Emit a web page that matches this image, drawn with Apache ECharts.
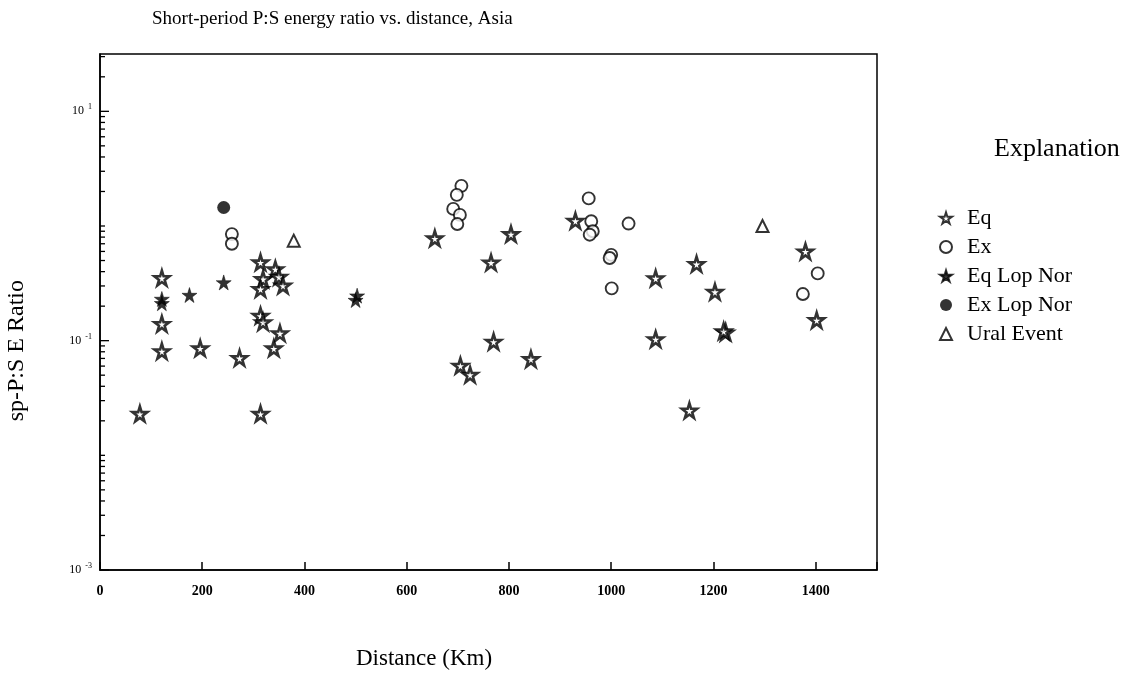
<!DOCTYPE html>
<html>
<head>
<meta charset="utf-8">
<script src="https://cdn.jsdelivr.net/npm/echarts@6/dist/echarts.min.js"></script>
<style>
html,body{margin:0;padding:0;background:#fff;}
#chart{width:1138px;height:680px;}
</style>
</head>
<body>
<div id="chart"></div>
<script>
// ---- data (distance km, sp-P:S energy ratio) ----
const eqX = [78,121,121,121,196,273,314,319,314,314,319,352,340,314,343,350,358,655,804,765,930,1087,1087,770,705,724,843,1167,1203,1224,1220,1153,1380,1402];
const eqY = [0.023,0.352,0.14,0.081,0.0857,0.0706,0.482,0.345,0.282,0.165,0.145,0.116,0.0857,0.023,0.42,0.361,0.302,0.78,0.85,0.48,1.11,0.35,0.103,0.098,0.0605,0.0505,0.069,0.466,0.267,0.118,0.121,0.0246,0.60,0.151];
const exX = [258,258,707,698,691,704,699,956,961,964,958,1034,1000,997,1001,1404,1375];
const exY = [0.85,0.70,2.24,1.87,1.41,1.25,1.04,1.74,1.10,0.90,0.84,1.05,0.56,0.526,0.286,0.386,0.255];
const eqLopX = [121,121,175,242,503,500];
const eqLopY = [0.231,0.212,0.25,0.322,0.247,0.226];
const exLopX = [242];
const exLopY = [1.45];
const uralX = [379,1296];
const uralY = [0.745,1.0];
const xTicks = [0,200,400,600,800,1000,1200,1400];
const yLabelExps = [1,-1,-3];
const yMajorTicks = [10,0.1,0.001];
const yMinorTicks = [0.002,0.003,0.004,0.005,0.006,0.007,0.008,0.009,0.01,
  0.02,0.03,0.04,0.05,0.06,0.07,0.08,0.09,
  0.2,0.3,0.4,0.5,0.6,0.7,0.8,0.9,1,
  2,3,4,5,6,7,8,9,20,30];
const seriesNames = ['Eq','Ex','Eq Lop Nor','Ex Lop Nor','Ural Event'];

const zip = (a,b) => a.map((v,i)=>[v,b[i]]);
const STAR = 'path://M50,0 L61,35 L98,35 L68,57 L79,91 L50,70 L21,91 L32,57 L2,35 L39,35 Z';
const FONT = 'Liberation Serif';

function tickSeries(vals, len){
  return {
    type:'custom', silent:true, clip:false, z:5,
    data: vals.map(v=>[0,v]),
    renderItem:(params, api)=>{
      const p = api.coord([0, api.value(1)]);
      return {type:'line', shape:{x1:p[0], y1:p[1], x2:p[0]+len, y2:p[1]},
        style:{stroke:'#000', lineWidth:1.3}};
    }
  };
}

const chart = echarts.init(document.getElementById('chart'));
chart.setOption({
  backgroundColor:'#fff',
  animation:false,
  textStyle:{fontFamily:FONT,color:'#000'},
  title:{
    text:'Short-period P:S energy ratio vs. distance, Asia',
    left:147, top:5,
    textStyle:{fontFamily:FONT,fontSize:19,fontWeight:'normal',color:'#000'}
  },
  graphic:[
    {type:'text',left:356,top:647,style:{text:'Distance (Km)',font:'23px "Liberation Serif"',fill:'#000'}},
    {type:'text',left:5,top:280,rotation:Math.PI/2,style:{text:'sp-P:S E Ratio',font:'24px "Liberation Serif"',fill:'#000'}},
    {type:'text',left:994,top:136,style:{text:'Explanation',font:'26px "Liberation Serif"',fill:'#000'}}
  ],
  legend:{
    orient:'vertical', left:934, top:202,
    itemWidth:12, itemHeight:12, itemGap:7,
    data:seriesNames,
    textStyle:{fontFamily:FONT,fontSize:22,color:'#000',padding:[0,0,0,10]}
  },
  grid:{left:100,top:54,right:261,bottom:110,show:true,borderColor:'#000',borderWidth:1.5,backgroundColor:'transparent'},
  xAxis:{
    type:'value', min:0, max:1520, interval:200,
    axisLine:{show:true,lineStyle:{color:'#000',width:1.5}},
    axisTick:{show:true,inside:true,length:8,lineStyle:{color:'#000',width:1.5}},
    splitLine:{show:false},
    axisLabel:{margin:14,fontFamily:FONT,fontSize:14,fontWeight:'bold',color:'#000',
      formatter:v => xTicks.indexOf(v)>=0 ? String(v) : ''}
  },
  yAxis:{
    type:'log', min:0.001, max:31.62, logBase:10,
    axisLine:{show:true,lineStyle:{color:'#000',width:1.5}},
    axisTick:{show:false},
    splitLine:{show:false},
    axisLabel:{margin:8,color:'#000',showMaxLabel:false,
      formatter:v => {
        const l = Math.log10(v), e = Math.round(l);
        if (Math.abs(l-e) > 1e-6 || yLabelExps.indexOf(e) < 0) return '';
        return '{b|10}{e|'+(e<0?'-':'')+Math.abs(e)+'}';
      },
      rich:{b:{fontFamily:FONT,fontSize:12,color:'#000'},e:{fontFamily:FONT,fontSize:8,color:'#000',padding:[0,0,8,4]}}
    }
  },
  series:[
    {name:'Eq',type:'scatter',symbol:STAR,symbolSize:15,data:zip(eqX,eqY),
     itemStyle:{color:'#fff',borderColor:'#000',borderWidth:2.6}},
    {name:'Ex',type:'scatter',symbol:'circle',symbolSize:12,data:zip(exX,exY),
     itemStyle:{color:'#fff',borderColor:'#000',borderWidth:1.9}},
    {name:'Eq Lop Nor',type:'scatter',symbol:STAR,symbolSize:15,data:zip(eqLopX,eqLopY),
     itemStyle:{color:'#000',borderColor:'#000',borderWidth:0.6}},
    {name:'Ex Lop Nor',type:'scatter',symbol:'circle',symbolSize:13,data:zip(exLopX,exLopY),
     itemStyle:{color:'#000'}},
    {name:'Ural Event',type:'scatter',symbol:'triangle',symbolSize:12,data:zip(uralX,uralY),
     itemStyle:{color:'#fff',borderColor:'#000',borderWidth:2}},
    tickSeries(yMajorTicks, 9),
    tickSeries(yMinorTicks, 5)
  ]
});
</script>
</body>
</html>
